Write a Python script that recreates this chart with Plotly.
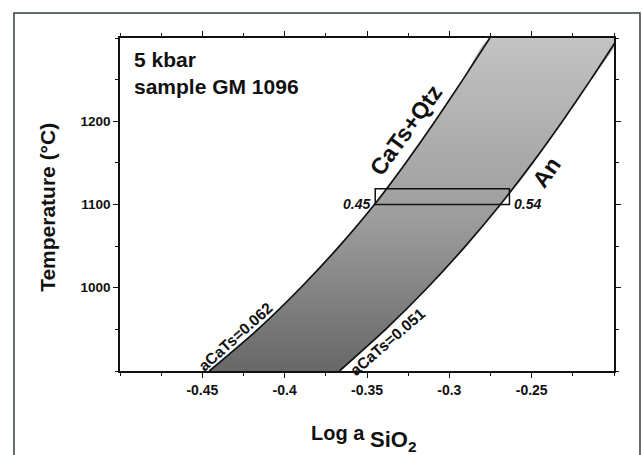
import plotly.graph_objects as go

# Temperature grid (°C) and log a(SiO2) along the two reaction curves
temp_c = [900, 950, 1000, 1050, 1100, 1150, 1200, 1250, 1300]
log_asio2_catsqtz = [-0.4458, -0.4163, -0.3903, -0.3668, -0.3455, -0.3265, -0.3087, -0.2918, -0.2754]
log_asio2_an = [-0.3667, -0.3387, -0.3133, -0.2902, -0.2690, -0.2495, -0.2313, -0.2141, -0.1976]

# Temperature / activity window of the sample
box_x = [-0.345, -0.2635]
box_t = [1100, 1119]
box_labels = ["0.45", "0.54"]

x_tickvals = [-0.45, -0.4, -0.35, -0.3, -0.25]
x_ticktext = ["-0.45", "-0.4", "-0.35", "-0.3", "-0.25"]
y_tickvals = [1000, 1100, 1200]
y_ticktext = ["1000", "1100", "1200"]

FONT = "Liberation Sans, Arial, Helvetica, sans-serif"
INK = "#111111"

fig = go.Figure()

# shaded field between the curves, darker at low temperature
fig.add_trace(go.Scatter(
    x=log_asio2_catsqtz + log_asio2_an[::-1],
    y=temp_c + temp_c[::-1],
    mode="lines",
    line=dict(width=0, shape="spline", smoothing=0.6),
    fill="toself",
    fillgradient=dict(
        type="vertical",
        colorscale=[[0, "#686868"], [0.45, "#9d9d9d"], [1, "#c4c4c4"]],
    ),
    hoverinfo="skip",
    showlegend=False,
))

for xs in (log_asio2_catsqtz, log_asio2_an):
    fig.add_trace(go.Scatter(
        x=xs, y=temp_c, mode="lines",
        line=dict(color=INK, width=1.7, shape="spline", smoothing=0.6),
        showlegend=False, hoverinfo="skip",
    ))

fig.add_shape(type="rect", x0=box_x[0], x1=box_x[1], y0=box_t[0], y1=box_t[1],
              line=dict(color=INK, width=1.5), fillcolor="rgba(0,0,0,0)")

# outer frame around the whole figure
fig.add_shape(type="rect", xref="paper", yref="paper",
              x0=-0.2146, x1=1.0526, y0=-0.30, y1=1.075,
              line=dict(color="#334033", width=1.5))

ann = []
ann.append(dict(x=0.024, y=0.975, xref="paper", yref="paper", xanchor="left", yanchor="top",
                text="<b>5 kbar<br>sample GM 1096</b>", align="left", showarrow=False,
                font=dict(family=FONT, size=21, color=INK)))
ann.append(dict(x=-0.3265, y=1190, text="<b>CaTs+Qtz</b>", textangle=-54, showarrow=False,
                xanchor="center", yanchor="middle",
                font=dict(family=FONT, size=23, color=INK)))
ann.append(dict(x=-0.2409, y=1139, text="<b>An</b>", textangle=-55, showarrow=False,
                xanchor="center", yanchor="middle",
                font=dict(family=FONT, size=23, color=INK)))
ann.append(dict(x=-0.4297, y=941, text="<b>aCaTs=0.062</b>", textangle=-42, showarrow=False,
                xanchor="center", yanchor="middle",
                font=dict(family=FONT, size=15.5, color=INK)))
ann.append(dict(x=-0.3373, y=935, text="<b>aCaTs=0.051</b>", textangle=-41, showarrow=False,
                xanchor="center", yanchor="middle",
                font=dict(family=FONT, size=15.5, color=INK)))
ann.append(dict(x=box_x[0] - 0.002, y=box_t[0] + 1, xanchor="right", yanchor="middle",
                showarrow=False, text="<b><i>" + box_labels[0] + "</i></b>",
                font=dict(family=FONT, size=14, color=INK)))
ann.append(dict(x=box_x[1] + 0.0015, y=box_t[0] + 1, xanchor="left", yanchor="middle",
                showarrow=False, text="<b><i>" + box_labels[1] + "</i></b>",
                font=dict(family=FONT, size=14, color=INK)))
# axis titles
ann.append(dict(x=-0.1457, y=0.49, xref="paper", yref="paper", textangle=-90, showarrow=False,
                xanchor="center", yanchor="middle",
                text="<b>Temperature (°C)</b>", font=dict(family=FONT, size=21, color=INK)))
ann.append(dict(x=0.5, y=-0.186, xref="paper", yref="paper", xanchor="right", yanchor="middle",
                showarrow=False, text="<b>Log a</b>", font=dict(family=FONT, size=20, color=INK)))
ann.append(dict(x=0.503, y=-0.21, xref="paper", yref="paper", xanchor="left", yanchor="middle",
                showarrow=False, text="<b>SiO<sub>2</sub></b>",
                font=dict(family=FONT, size=22, color=INK)))

axis_common = dict(
    showgrid=False, zeroline=False, showline=True, linecolor=INK, linewidth=1.5,
    mirror="allticks", ticks="outside", ticklen=5, tickwidth=1, tickcolor=INK,
)

fig.update_layout(
    width=642, height=455,
    margin=dict(l=120, r=28, t=38, b=84),
    paper_bgcolor="white", plot_bgcolor="white",
    annotations=ann,
    xaxis=dict(range=[-0.5, -0.2], tickvals=x_tickvals, ticktext=x_ticktext,
               tickfont=dict(family=FONT, size=14, color=INK, weight="bold"),
               minor=dict(ticks="outside", dtick=0.025, tick0=0, ticklen=3, tickcolor=INK),
               **axis_common),
    yaxis=dict(range=[900, 1300], tickvals=y_tickvals, ticktext=y_ticktext,
               tickfont=dict(family=FONT, size=13.5, color=INK, weight="bold"),
               minor=dict(ticks="outside", dtick=50, tick0=0, ticklen=3, tickcolor=INK),
               **axis_common),
)

fig.write_html("out.html")
